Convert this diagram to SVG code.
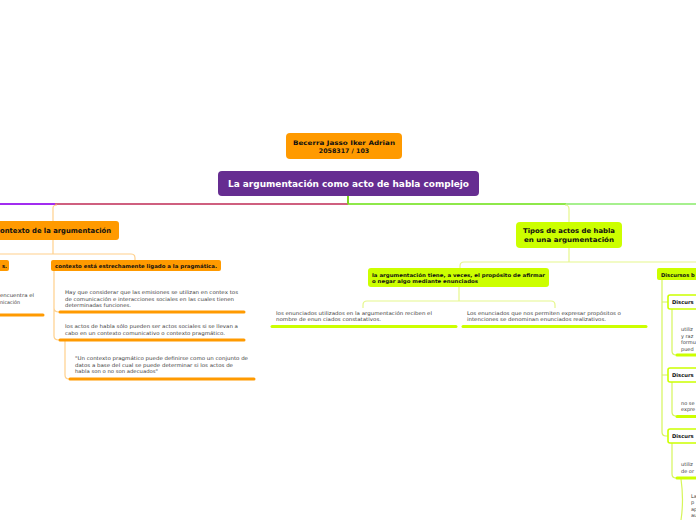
<svg xmlns="http://www.w3.org/2000/svg" width="696" height="520" viewBox="0 0 696 520">
<style>
.t{font-family:"DejaVu Sans","Liberation Sans",sans-serif;font-size:5px;fill:#3a3a3a}
.b{font-family:"DejaVu Sans","Liberation Sans",sans-serif;font-weight:bold;fill:#111}
.oc{fill:none;stroke:#ffd08c;stroke-width:1.2}
.gc{fill:none;stroke:#e6f78c;stroke-width:1.2}
.rc{fill:none;stroke:#d6f55a;stroke-width:1.2}
.ou{stroke:#ff9a00;stroke-width:3;stroke-linecap:round}
.gu{stroke:#ccff00;stroke-width:3;stroke-linecap:round}
.on{fill:#ff9a00}
.gn{fill:#ccff00}
.wn{fill:#fff;stroke:#ccff00;stroke-width:1.6}
</style>
<rect width="696" height="520" fill="#fff"/>
<g id="connectors">
<line x1="0" y1="204" x2="55" y2="204" stroke="#a12cf0" stroke-width="2"/>
<line x1="55" y1="204" x2="348" y2="204" stroke="#cf5f7f" stroke-width="2"/>
<line x1="348" y1="204" x2="566" y2="204" stroke="#8ee84a" stroke-width="2"/>
<line x1="566" y1="204" x2="696" y2="204" stroke="#a6f08e" stroke-width="2"/>
<line x1="348" y1="196" x2="348" y2="204" stroke="#7ed321" stroke-width="2"/>
<path class="oc" d="M53,221 V208 Q53,205 57,205"/>
<path class="oc" d="M53,240 V254 M0,254 H131 Q135,254 135,258 V260"/>
<path class="oc" d="M54,271 V308 Q54,312 59,312 M54,308 V336 Q54,340 59,340"/>
<path class="oc" d="M65,341 V375 Q65,379 69,379"/>
<path class="gc" d="M565,205 Q569,205 569,209 V222"/>
<path class="gc" d="M569,248 V262 M464,262 H696 M464,262 Q460,262 460,266 V268"/>
<path class="gc" d="M459,287 V301 M367,301 H551 Q555,301 555,305 V308 M367,301 Q363,301 363,305 V308"/>
<path class="rc" d="M662,280 V432 Q662,436 666,436 H668 M662,302 H668 M662,375 H668"/>
<path class="rc" d="M672,309 V351 Q672,355 676,355"/>
<path class="rc" d="M672,382 V412 Q672,416 676,416"/>
<path class="rc" d="M672,443 V474 Q672,478 676,478"/>
<path class="rc" d="M681,479 Q684,500 681,520"/>
</g>
<g id="author">
<rect class="on" x="286" y="133" width="116" height="26" rx="4"/>
<text class="b" x="344" y="145" font-size="6.3" text-anchor="middle" textLength="102" lengthAdjust="spacingAndGlyphs">Becerra Jasso Iker Adrian</text>
<text class="b" x="344" y="153" font-size="6.3" text-anchor="middle">2058317 / 103</text>
</g>
<g id="main">
<rect x="218" y="171" width="261" height="25" rx="4" fill="#662d91"/>
<text class="b" x="348.5" y="187" font-size="8.8" text-anchor="middle" fill="#fff" style="fill:#fff" textLength="241" lengthAdjust="spacingAndGlyphs">La argumentación como acto de habla complejo</text>
</g>
<g id="contexto">
<rect class="on" x="-10" y="221" width="129" height="19" rx="3"/>
<text class="b" x="111" y="233" font-size="7" text-anchor="end" textLength="115" lengthAdjust="spacingAndGlyphs">contexto de la argumentación</text>
</g>
<g id="s-node">
<rect class="on" x="-10" y="260" width="19" height="11" rx="2"/>
<text class="b" x="7" y="268" font-size="5.2" text-anchor="end">s.</text>
</g>
<g id="left-text">
<text class="t" x="0" y="297" textLength="34" lengthAdjust="spacingAndGlyphs">encuentra el</text>
<text class="t" x="0" y="304" textLength="20" lengthAdjust="spacingAndGlyphs">nicación</text>
<line class="ou" x1="0" y1="315" x2="43" y2="315"/>
</g>
<g id="pragmatica">
<rect class="on" x="51" y="260" width="170" height="11" rx="2"/>
<text class="b" x="55" y="268" font-size="5.2" textLength="162" lengthAdjust="spacingAndGlyphs">contexto está estrechamente ligado a la pragmática.</text>
</g>
<g id="emisiones">
<text class="t" x="65" y="294" textLength="173" lengthAdjust="spacingAndGlyphs">Hay que considerar que las emisiones se utilizan en contex tos</text>
<text class="t" x="65" y="300.5" textLength="169" lengthAdjust="spacingAndGlyphs">de comunicación e interacciones sociales en las cuales tienen</text>
<text class="t" x="65" y="307" textLength="66" lengthAdjust="spacingAndGlyphs">determinadas funciones.</text>
<line class="ou" x1="60" y1="312" x2="244" y2="312"/>
</g>
<g id="actos-sociales">
<text class="t" x="65" y="328" textLength="173" lengthAdjust="spacingAndGlyphs">los actos de habla sólo pueden ser actos sociales si se llevan a</text>
<text class="t" x="65" y="334.5" textLength="160" lengthAdjust="spacingAndGlyphs">cabo en un contexto comunicativo o contexto pragmático.</text>
<line class="ou" x1="60" y1="340" x2="244" y2="340"/>
</g>
<g id="definicion">
<text class="t" x="75" y="360" textLength="173" lengthAdjust="spacingAndGlyphs">"Un contexto pragmático puede definirse como un conjunto de</text>
<text class="t" x="75" y="366.5" textLength="158" lengthAdjust="spacingAndGlyphs">datos a base del cual se puede determinar si los actos de</text>
<text class="t" x="75" y="373" textLength="83" lengthAdjust="spacingAndGlyphs">habla son o no son adecuados"</text>
<line class="ou" x1="70" y1="379" x2="254" y2="379"/>
</g>
<g id="tipos">
<rect class="gn" x="516" y="222" width="106" height="26" rx="4"/>
<text class="b" x="569" y="233" font-size="6.6" text-anchor="middle" textLength="92" lengthAdjust="spacingAndGlyphs">Tipos de actos de habla</text>
<text class="b" x="569" y="242" font-size="6.6" text-anchor="middle" textLength="90" lengthAdjust="spacingAndGlyphs">en una argumentación</text>
</g>
<g id="proposito">
<rect class="gn" x="368" y="268" width="181" height="19" rx="3"/>
<text class="b" x="372" y="276.5" font-size="5" textLength="173" lengthAdjust="spacingAndGlyphs">la argumentación tiene, a veces, el propósito de afirmar</text>
<text class="b" x="372" y="283" font-size="5" textLength="106" lengthAdjust="spacingAndGlyphs">o negar algo mediante enunciados</text>
</g>
<g id="constatativos">
<text class="t" x="276" y="314.5" textLength="156" lengthAdjust="spacingAndGlyphs">los enunciados utilizados en la argumentación reciben el</text>
<text class="t" x="276" y="321" textLength="105" lengthAdjust="spacingAndGlyphs">nombre de enun ciados constatativos.</text>
<line class="gu" x1="272" y1="326.5" x2="456" y2="326.5"/>
</g>
<g id="realizativos">
<text class="t" x="467" y="314.5" textLength="154" lengthAdjust="spacingAndGlyphs">Los enunciados que nos permiten expresar propósitos o</text>
<text class="t" x="467" y="321" textLength="139" lengthAdjust="spacingAndGlyphs">intenciones se denominan enunciados realizativos.</text>
<line class="gu" x1="463" y1="326.5" x2="646" y2="326.5"/>
</g>
<g id="discursos">
<rect class="gn" x="657" y="268" width="50" height="12" rx="2"/>
<text class="b" x="661" y="276.5" font-size="5.2">Discursos b</text>
</g>
<g id="discurso-1">
<rect class="wn" x="668" y="295" width="40" height="14" rx="2"/>
<text class="b" x="672" y="304" font-size="5.2">Discurs</text>
<text class="t" x="681" y="331">utiliz</text>
<text class="t" x="681" y="337.5">y raz</text>
<text class="t" x="681" y="344">formu</text>
<text class="t" x="681" y="350.5">pued</text>
<line class="gu" x1="677" y1="355" x2="697" y2="355"/>
</g>
<g id="discurso-2">
<rect class="wn" x="668" y="368" width="40" height="14" rx="2"/>
<text class="b" x="672" y="377" font-size="5.2">Discurs</text>
<text class="t" x="681" y="404.5">no se</text>
<text class="t" x="681" y="411">expre</text>
<line class="gu" x1="677" y1="416.5" x2="697" y2="416.5"/>
</g>
<g id="discurso-3">
<rect class="wn" x="668" y="429" width="40" height="14" rx="2"/>
<text class="b" x="672" y="438" font-size="5.2">Discurs</text>
<text class="t" x="681" y="466">utiliz</text>
<text class="t" x="681" y="472.5">de or</text>
<line class="gu" x1="677" y1="478" x2="697" y2="478"/>
</g>
<g id="discurso-3-sub">
<text class="t" x="691" y="497.5">La</text>
<text class="t" x="691" y="504">p</text>
<text class="t" x="691" y="510.5">ap</text>
<text class="t" x="691" y="517">au</text>
</g>
</svg>
